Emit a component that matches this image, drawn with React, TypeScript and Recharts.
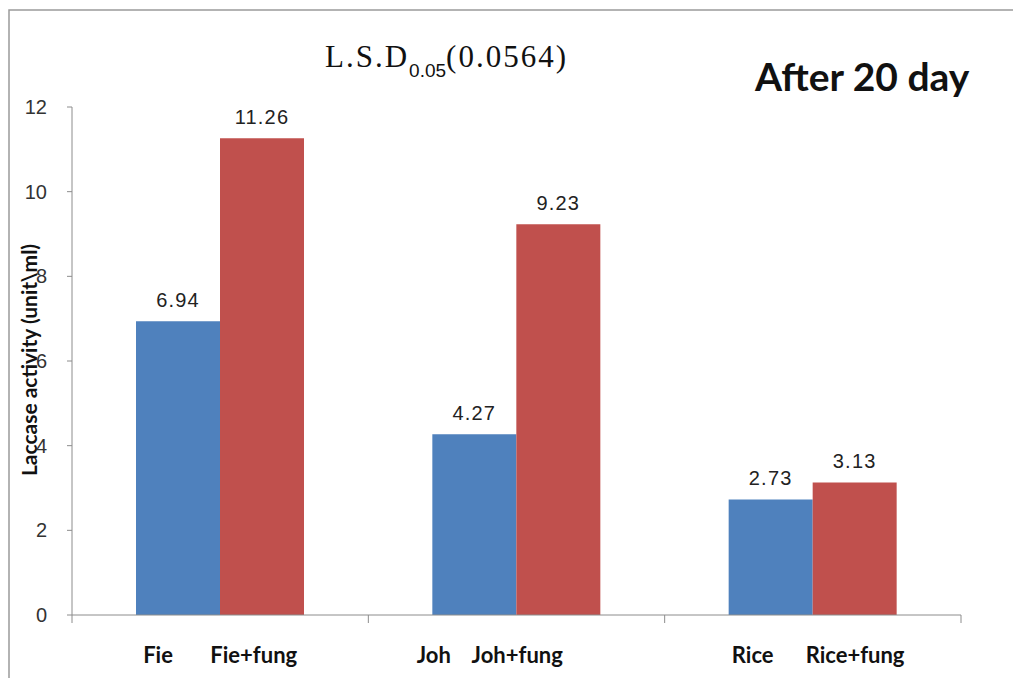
import React from "react";
import { BarChart, Bar, XAxis, YAxis, LabelList } from "recharts";

// treatments and laccase readings (unit\ml) after 20 days
const categories = ["Fie", "Joh", "Rice"];
const tickLabels = ["Fie       Fie+fung", "Joh    Joh+fung          ", "  Rice      Rice+fung"];
const plainValues = [6.94, 4.27, 2.73];
const fungValues = [11.26, 9.23, 3.13];
const yTicks = [0, 2, 4, 6, 8, 10, 12];

const data = categories.map((name, i) => ({
    name,
    label: tickLabels[i],
    plain: plainValues[i],
    fung: fungValues[i],
}));

const W = 1013;
const H = 678;
const margin = { top: 107, right: 52, bottom: 0, left: 0 };
const yAxisWidth = 72;
const xAxisHeight = 63;
const plotLeft = margin.left + yAxisWidth;
const plotRight = W - margin.right;
const axisY = H - margin.bottom - xAxisHeight;
const band = (plotRight - plotLeft) / categories.length;

const labelFont = "Lato, 'Noto Sans', sans-serif";
const numberFont = "'Liberation Sans', Arial, sans-serif";
const axisColor = "#8c8c8c";

const CategoryTick = (props: any) => {
    const { x, index } = props;
    const label = tickLabels[index];
    return (
        <g>
            {index === 0 && <line x1={x - band / 2} x2={x - band / 2} y1={axisY} y2={axisY + 8} stroke={axisColor} />}
            <line x1={x + band / 2} x2={x + band / 2} y1={axisY} y2={axisY + 8} stroke={axisColor} />
            <text
                x={x}
                y={axisY + 48}
                textAnchor="middle"
                fontFamily={labelFont}
                fontWeight="bold"
                fontSize={22}
                fill="#111"
                style={{ whiteSpace: "pre" }}
            >
                {label}
            </text>
        </g>
    );
};

const fmt = (v: any) => Number(v).toFixed(2);

export default function App() {
    return (
        <div style={{ position: "absolute", left: 0, top: 0, background: "#fff" }}>
            <BarChart width={W} height={H} data={data} margin={margin} barCategoryGap={64} barGap={0}>
                {/* frame */}
                <rect x={9} y={10} width={W + 20} height={H + 20} fill="none" stroke="#9a9a9a" strokeWidth={1.5} />

                <text x={325} y={67} fontFamily="'Liberation Serif', 'Times New Roman', serif" fontSize={31} letterSpacing={2} fill="#111">
                    L.S.D
                    <tspan fontFamily={numberFont} fontSize={19} letterSpacing={0} dy={10}>0.05</tspan>
                    <tspan dy={-10}>(0.0564)</tspan>
                </text>

                <text x={755} y={91} fontFamily={labelFont} fontWeight="bold" fontSize={39} fill="#111">
                    After 20 day
                </text>

                <text
                    transform="translate(37, 360) rotate(-90)"
                    textAnchor="middle"
                    fontFamily={labelFont}
                    fontWeight="bold"
                    fontSize={21}
                    fill="#111"
                >
                    Laccase activity (unit\ml)
                </text>

                <XAxis
                    dataKey="name"
                    height={xAxisHeight}
                    interval={0}
                    tickLine={false}
                    axisLine={{ stroke: axisColor }}
                    tick={<CategoryTick />}
                />
                <YAxis
                    type="number"
                    domain={[0, 12]}
                    ticks={yTicks}
                    interval={0}
                    width={yAxisWidth}
                    tickSize={5}
                    tickMargin={20}
                    axisLine={{ stroke: axisColor }}
                    tickLine={{ stroke: axisColor }}
                    tick={{ fontFamily: numberFont, fontSize: 20, fill: "#333" }}
                />
                <Bar dataKey="plain" fill="#4F81BD" isAnimationActive={false}>
                    <LabelList dataKey="plain" position="top" offset={14} formatter={fmt}
                        style={{ fontFamily: numberFont, fontSize: 20, fill: "#222", letterSpacing: 1.2 }} />
                </Bar>
                <Bar dataKey="fung" fill="#C0504D" isAnimationActive={false}>
                    <LabelList dataKey="fung" position="top" offset={14} formatter={fmt}
                        style={{ fontFamily: numberFont, fontSize: 20, fill: "#222", letterSpacing: 1.2 }} />
                </Bar>
            </BarChart>
        </div>
    );
}
